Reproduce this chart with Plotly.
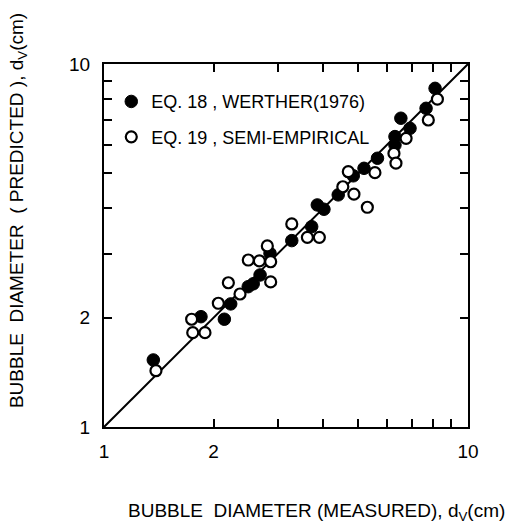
import plotly.graph_objects as go

# Bubble diameters (cm): measured vs. predicted
werther_measured = [1.366, 1.847, 2.141, 2.229, 2.49, 2.57, 2.684, 2.858, 3.28, 3.72, 3.855,
                    4.02, 4.40, 4.84, 5.18, 5.64, 6.30, 6.30, 6.54, 6.93, 7.67, 8.12]
werther_predicted = [1.530, 2.013, 1.981, 2.183, 2.435, 2.48, 2.623, 3.009, 3.262, 3.563, 4.09,
                     3.98, 4.36, 4.92, 5.16, 5.50, 6.31, 5.98, 7.09, 6.65, 7.55, 8.57]

semi_measured = [1.389, 1.741, 1.753, 1.894, 2.061, 2.196, 2.364, 2.87, 2.491, 2.672, 2.81,
                 2.87, 3.28, 3.62, 3.905, 4.53, 4.86, 5.29, 4.69, 5.55, 6.26, 6.34, 6.76,
                 7.78, 8.24]
semi_predicted = [1.429, 1.981, 1.819, 1.819, 2.192, 2.497, 2.325, 2.51, 2.884, 2.867, 3.153,
                  2.853, 3.625, 3.33, 3.33, 4.59, 4.38, 4.03, 5.05, 5.02, 5.67, 5.33, 6.24,
                  7.01, 8.00]

parity = [1, 10]
major_ticks = [1, 2, 10]
major_labels = ["1", "2", "10"]
minor_ticks = [3, 4, 5, 6, 7, 8, 9]

FONT = "Liberation Sans, Arial, sans-serif"

fig = go.Figure()

# 45-degree parity line
fig.add_trace(go.Scatter(
    x=parity, y=parity, mode="lines",
    line=dict(color="black", width=2), showlegend=False, hoverinfo="skip"))

fig.add_trace(go.Scatter(
    x=werther_measured, y=werther_predicted, mode="markers",
    name="EQ. 18 , WERTHER(1976)", legendgroup="a",
    marker=dict(symbol="circle", size=12.5, color="black",
                line=dict(color="black", width=1))))

fig.add_trace(go.Scatter(
    x=semi_measured, y=semi_predicted, mode="markers",
    name="EQ. 19 , SEMI-EMPIRICAL", legendgroup="b",
    marker=dict(symbol="circle", size=11, color="white",
                line=dict(color="black", width=2.2))))

axis_common = dict(
    type="log", range=[0, 1],
    tickmode="array", tickvals=major_ticks, ticktext=major_labels,
    ticks="inside", ticklen=8, tickwidth=1.5, tickcolor="black",
    minor=dict(tickmode="array", tickvals=minor_ticks, ticks="inside",
               ticklen=8, tickwidth=1.5, tickcolor="black", showgrid=False),
    showline=True, linecolor="black", linewidth=2, mirror="ticks",
    showgrid=False, zeroline=False,
    tickfont=dict(family=FONT, size=19, color="black"),
)

fig.update_layout(
    width=525, height=523,
    margin=dict(l=104, r=57, t=64, b=96),
    paper_bgcolor="white", plot_bgcolor="white",
    font=dict(family=FONT, color="black"),
    xaxis=dict(**axis_common, ticklabelstandoff=6),
    yaxis=dict(**axis_common, ticklabelstandoff=8),
    legend=dict(
        x=0.02, y=0.947, xanchor="left", yanchor="top",
        bgcolor="rgba(0,0,0,0)", borderwidth=0,
        font=dict(family=FONT, size=18, color="black"),
        tracegroupgap=9, itemsizing="trace",
    ),
    annotations=[
        dict(text="BUBBLE  DIAMETER (MEASURED), d<sub>V</sub>(cm)",
             xref="paper", yref="paper", x=0.585, y=-0.235,
             xanchor="center", yanchor="middle", showarrow=False,
             font=dict(family=FONT, size=19, color="black")),
        dict(text="BUBBLE  DIAMETER  ( PREDICTED ), d<sub>V</sub>(cm)",
             xref="paper", yref="paper", x=-0.236, y=0.595,
             xanchor="center", yanchor="middle", showarrow=False, textangle=-90,
             font=dict(family=FONT, size=19, color="black")),
    ],
)

fig.write_html("out.html")
